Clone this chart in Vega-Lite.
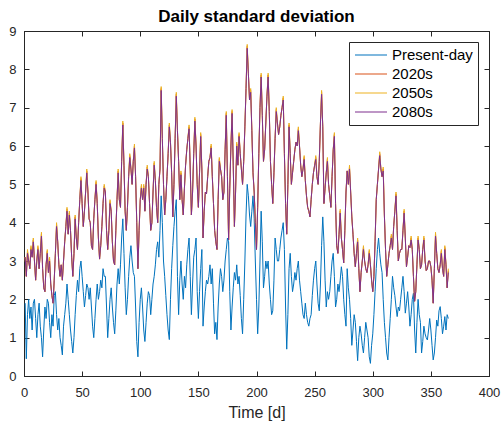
{
"$schema": "https://vega.github.io/schema/vega-lite/v6.json",
"width": 465, "height": 345,
"autosize": {"type": "none"},
"padding": {"left": 24, "top": 31, "right": 15, "bottom": 47},
"background": "white",
"title": {"text": "Daily standard deviation", "fontSize": 17, "fontWeight": "bold", "font": "Liberation Sans", "color": "black", "offset": 8, "baseline": "alphabetic", "frame": "group", "anchor": "middle", "dy": 22},
"config": {
  "view": {"stroke": "#262626", "strokeWidth": 1},
  "axis": {"grid": false, "domainColor": "#262626", "tickColor": "#262626", "labelColor": "#262626", "labelFont": "Liberation Sans", "labelFontSize": 13, "titleFont": "Liberation Sans", "titleColor": "#262626", "titleFontWeight": "normal", "tickSize": -5, "labelFlush": false}
},
"layer": [
{
"data": {"values": [
{"d":1,"p":1.9,"a":3.1,"b":3.1,"c":3.1},
{"d":2,"p":0.45,"a":2.6,"b":2.6,"c":2.6},
{"d":3,"p":1.6,"a":3.25,"b":3.3,"c":3.2},
{"d":4,"p":2.0,"a":3.0,"b":3.0,"c":3.0},
{"d":5,"p":1.5,"a":2.8,"b":2.8,"c":2.8},
{"d":6,"p":1.8,"a":3.35,"b":3.4,"c":3.3},
{"d":7,"p":1.2,"a":3.1,"b":3.1,"c":3.1},
{"d":8,"p":1.9,"a":3.55,"b":3.6,"c":3.5},
{"d":9,"p":2.0,"a":3.0,"b":3.0,"c":3.0},
{"d":10,"p":1.5,"a":2.5,"b":2.5,"c":2.5},
{"d":11,"p":1.0,"a":3.0,"b":3.0,"c":3.0},
{"d":12,"p":1.6,"a":3.35,"b":3.4,"c":3.3},
{"d":13,"p":1.9,"a":2.8,"b":2.8,"c":2.8},
{"d":14,"p":1.3,"a":3.2,"b":3.2,"c":3.2},
{"d":15,"p":1.0,"a":3.7,"b":3.75,"c":3.65},
{"d":16,"p":0.5,"a":2.8,"b":2.8,"c":2.8},
{"d":17,"p":1.2,"a":2.3,"b":2.3,"c":2.3},
{"d":18,"p":1.8,"a":2.2,"b":2.2,"c":2.2},
{"d":19,"p":1.5,"a":2.9,"b":2.9,"c":2.9},
{"d":20,"p":2.0,"a":3.25,"b":3.3,"c":3.2},
{"d":21,"p":1.9,"a":2.7,"b":2.7,"c":2.7},
{"d":22,"p":1.4,"a":3.05,"b":3.1,"c":3.0},
{"d":23,"p":1.0,"a":2.4,"b":2.4,"c":2.4},
{"d":24,"p":1.6,"a":2.1,"b":2.1,"c":2.1},
{"d":25,"p":1.3,"a":1.9,"b":1.9,"c":1.9},
{"d":26,"p":2.1,"a":2.5,"b":2.5,"c":2.5},
{"d":27,"p":2.2,"a":3.2,"b":3.2,"c":3.2},
{"d":28,"p":1.6,"a":3.95,"b":4.0,"c":3.9},
{"d":29,"p":1.2,"a":3.5,"b":3.5,"c":3.5},
{"d":30,"p":1.5,"a":2.9,"b":2.9,"c":2.9},
{"d":31,"p":1.0,"a":2.6,"b":2.6,"c":2.6},
{"d":32,"p":0.8,"a":2.9,"b":2.9,"c":2.9},
{"d":33,"p":0.55,"a":2.5,"b":2.5,"c":2.5},
{"d":34,"p":1.3,"a":3.0,"b":3.0,"c":3.0},
{"d":35,"p":1.6,"a":3.5,"b":3.5,"c":3.5},
{"d":36,"p":1.9,"a":3.9,"b":3.9,"c":3.9},
{"d":37,"p":2.4,"a":4.35,"b":4.4,"c":4.3},
{"d":38,"p":2.0,"a":3.7,"b":3.7,"c":3.7},
{"d":39,"p":1.6,"a":4.25,"b":4.3,"c":4.2},
{"d":40,"p":1.2,"a":3.8,"b":3.8,"c":3.8},
{"d":41,"p":0.9,"a":3.1,"b":3.1,"c":3.1},
{"d":42,"p":0.6,"a":2.6,"b":2.6,"c":2.6},
{"d":43,"p":1.0,"a":3.2,"b":3.2,"c":3.2},
{"d":44,"p":1.6,"a":4.15,"b":4.2,"c":4.1},
{"d":45,"p":2.1,"a":3.6,"b":3.6,"c":3.6},
{"d":46,"p":2.5,"a":3.3,"b":3.3,"c":3.3},
{"d":47,"p":2.2,"a":4.0,"b":4.0,"c":4.0},
{"d":48,"p":2.8,"a":4.6,"b":4.6,"c":4.6},
{"d":49,"p":3.0,"a":5.15,"b":5.2,"c":5.1},
{"d":50,"p":2.6,"a":4.5,"b":4.5,"c":4.5},
{"d":51,"p":2.2,"a":3.9,"b":3.9,"c":3.9},
{"d":52,"p":1.8,"a":4.3,"b":4.3,"c":4.3},
{"d":53,"p":2.1,"a":4.8,"b":4.8,"c":4.8},
{"d":54,"p":2.4,"a":5.35,"b":5.4,"c":5.3},
{"d":55,"p":2.3,"a":4.8,"b":4.8,"c":4.8},
{"d":56,"p":2.0,"a":4.1,"b":4.1,"c":4.1},
{"d":57,"p":2.3,"a":4.0,"b":4.0,"c":4.0},
{"d":58,"p":1.8,"a":3.4,"b":3.4,"c":3.4},
{"d":59,"p":1.3,"a":3.3,"b":3.3,"c":3.3},
{"d":60,"p":1.0,"a":4.1,"b":4.1,"c":4.1},
{"d":61,"p":1.5,"a":4.6,"b":4.6,"c":4.6},
{"d":62,"p":2.0,"a":5.05,"b":5.1,"c":5.0},
{"d":63,"p":2.4,"a":4.5,"b":4.5,"c":4.5},
{"d":64,"p":2.0,"a":3.6,"b":3.6,"c":3.6},
{"d":65,"p":2.2,"a":3.05,"b":3.05,"c":3.05},
{"d":66,"p":2.5,"a":3.4,"b":3.4,"c":3.4},
{"d":67,"p":2.3,"a":3.9,"b":3.9,"c":3.9},
{"d":68,"p":2.8,"a":4.5,"b":4.5,"c":4.5},
{"d":69,"p":2.6,"a":4.95,"b":5.0,"c":4.9},
{"d":70,"p":2.6,"a":4.8,"b":4.8,"c":4.8},
{"d":71,"p":1.8,"a":3.8,"b":3.8,"c":3.8},
{"d":72,"p":1.0,"a":3.3,"b":3.3,"c":3.3},
{"d":73,"p":1.5,"a":3.8,"b":3.8,"c":3.8},
{"d":74,"p":2.0,"a":4.55,"b":4.6,"c":4.5},
{"d":75,"p":2.3,"a":4.3,"b":4.3,"c":4.3},
{"d":76,"p":1.8,"a":3.5,"b":3.5,"c":3.5},
{"d":77,"p":1.4,"a":3.0,"b":3.0,"c":3.0},
{"d":78,"p":1.1,"a":2.9,"b":2.9,"c":2.9},
{"d":79,"p":1.7,"a":3.8,"b":3.8,"c":3.8},
{"d":80,"p":2.4,"a":4.6,"b":4.6,"c":4.6},
{"d":81,"p":2.8,"a":5.35,"b":5.4,"c":5.3},
{"d":82,"p":2.4,"a":4.6,"b":4.6,"c":4.6},
{"d":83,"p":2.9,"a":4.4,"b":4.4,"c":4.4},
{"d":84,"p":3.6,"a":5.6,"b":5.6,"c":5.6},
{"d":85,"p":4.1,"a":6.6,"b":6.65,"c":6.55},
{"d":86,"p":3.2,"a":5.5,"b":5.5,"c":5.5},
{"d":87,"p":2.3,"a":4.3,"b":4.3,"c":4.3},
{"d":88,"p":1.6,"a":3.8,"b":3.8,"c":3.8},
{"d":89,"p":2.0,"a":4.4,"b":4.4,"c":4.4},
{"d":90,"p":2.6,"a":5.2,"b":5.2,"c":5.2},
{"d":91,"p":3.1,"a":5.75,"b":5.8,"c":5.7},
{"d":92,"p":3.4,"a":5.4,"b":5.4,"c":5.4},
{"d":93,"p":3.0,"a":5.0,"b":5.0,"c":5.0},
{"d":94,"p":2.7,"a":5.6,"b":5.6,"c":5.6},
{"d":95,"p":2.6,"a":6.0,"b":6.05,"c":5.95},
{"d":96,"p":1.8,"a":5.2,"b":5.2,"c":5.2},
{"d":97,"p":0.9,"a":4.0,"b":4.0,"c":4.0},
{"d":98,"p":0.5,"a":2.8,"b":2.8,"c":2.8},
{"d":99,"p":1.4,"a":3.8,"b":3.8,"c":3.8},
{"d":100,"p":2.0,"a":4.6,"b":4.6,"c":4.6},
{"d":101,"p":2.3,"a":4.95,"b":5.0,"c":4.9},
{"d":102,"p":1.8,"a":4.6,"b":4.6,"c":4.6},
{"d":103,"p":1.2,"a":4.95,"b":5.0,"c":4.9},
{"d":104,"p":0.9,"a":4.3,"b":4.3,"c":4.3},
{"d":105,"p":1.4,"a":5.0,"b":5.0,"c":5.0},
{"d":106,"p":1.9,"a":5.45,"b":5.5,"c":5.4},
{"d":107,"p":2.2,"a":5.2,"b":5.2,"c":5.2},
{"d":108,"p":2.1,"a":4.5,"b":4.5,"c":4.5},
{"d":109,"p":1.6,"a":3.8,"b":3.8,"c":3.8},
{"d":110,"p":2.0,"a":4.0,"b":4.0,"c":4.0},
{"d":111,"p":2.4,"a":4.8,"b":4.8,"c":4.8},
{"d":112,"p":2.6,"a":5.55,"b":5.6,"c":5.5},
{"d":113,"p":2.9,"a":5.1,"b":5.1,"c":5.1},
{"d":114,"p":3.3,"a":4.4,"b":4.4,"c":4.4},
{"d":115,"p":3.5,"a":4.0,"b":4.0,"c":4.0},
{"d":116,"p":3.1,"a":5.0,"b":5.0,"c":5.0},
{"d":117,"p":3.8,"a":5.4,"b":5.4,"c":5.4},
{"d":118,"p":4.7,"a":7.5,"b":7.55,"c":7.45},
{"d":119,"p":4.0,"a":6.2,"b":6.2,"c":6.2},
{"d":120,"p":3.0,"a":5.0,"b":5.0,"c":5.0},
{"d":121,"p":2.6,"a":4.2,"b":4.2,"c":4.2},
{"d":122,"p":2.1,"a":4.6,"b":4.6,"c":4.6},
{"d":123,"p":1.6,"a":5.2,"b":5.2,"c":5.2},
{"d":124,"p":1.2,"a":5.8,"b":5.8,"c":5.8},
{"d":125,"p":0.95,"a":6.55,"b":6.6,"c":6.5},
{"d":126,"p":2.0,"a":6.1,"b":6.1,"c":6.1},
{"d":127,"p":2.8,"a":5.3,"b":5.3,"c":5.3},
{"d":128,"p":3.4,"a":4.15,"b":4.15,"c":4.15},
{"d":129,"p":3.9,"a":5.0,"b":5.0,"c":5.0},
{"d":130,"p":4.3,"a":6.2,"b":6.2,"c":6.2},
{"d":131,"p":4.6,"a":7.35,"b":7.4,"c":7.3},
{"d":132,"p":2.6,"a":6.4,"b":6.4,"c":6.4},
{"d":133,"p":1.6,"a":5.6,"b":5.6,"c":5.6},
{"d":134,"p":2.5,"a":4.6,"b":4.6,"c":4.6},
{"d":135,"p":3.0,"a":5.3,"b":5.35,"c":5.25},
{"d":136,"p":2.4,"a":4.6,"b":4.6,"c":4.6},
{"d":137,"p":2.0,"a":4.2,"b":4.2,"c":4.2},
{"d":138,"p":2.6,"a":4.9,"b":4.9,"c":4.9},
{"d":139,"p":2.3,"a":5.5,"b":5.5,"c":5.5},
{"d":140,"p":2.9,"a":5.9,"b":5.9,"c":5.9},
{"d":141,"p":3.3,"a":6.2,"b":6.2,"c":6.2},
{"d":142,"p":3.6,"a":6.5,"b":6.55,"c":6.45},
{"d":143,"p":2.6,"a":5.4,"b":5.4,"c":5.4},
{"d":144,"p":1.6,"a":4.2,"b":4.2,"c":4.2},
{"d":145,"p":2.4,"a":4.8,"b":4.8,"c":4.8},
{"d":146,"p":3.1,"a":5.8,"b":5.8,"c":5.8},
{"d":147,"p":3.3,"a":6.7,"b":6.75,"c":6.65},
{"d":148,"p":3.6,"a":6.0,"b":6.0,"c":6.0},
{"d":149,"p":2.2,"a":5.0,"b":5.0,"c":5.0},
{"d":150,"p":1.5,"a":4.4,"b":4.4,"c":4.4},
{"d":151,"p":2.2,"a":5.3,"b":5.3,"c":5.3},
{"d":152,"p":2.8,"a":6.3,"b":6.35,"c":6.25},
{"d":153,"p":3.3,"a":5.4,"b":5.4,"c":5.4},
{"d":154,"p":1.3,"a":3.6,"b":3.6,"c":3.6},
{"d":155,"p":1.8,"a":4.3,"b":4.3,"c":4.3},
{"d":156,"p":2.2,"a":4.8,"b":4.8,"c":4.8},
{"d":157,"p":2.5,"a":4.75,"b":4.75,"c":4.75},
{"d":158,"p":2.4,"a":5.2,"b":5.2,"c":5.2},
{"d":159,"p":2.6,"a":5.6,"b":5.6,"c":5.6},
{"d":160,"p":2.9,"a":5.7,"b":5.7,"c":5.7},
{"d":161,"p":2.4,"a":6.0,"b":6.05,"c":5.95},
{"d":162,"p":2.8,"a":5.2,"b":5.2,"c":5.2},
{"d":163,"p":1.9,"a":4.5,"b":4.5,"c":4.5},
{"d":164,"p":1.1,"a":3.8,"b":3.8,"c":3.8},
{"d":165,"p":1.4,"a":3.5,"b":3.5,"c":3.5},
{"d":166,"p":0.95,"a":3.3,"b":3.3,"c":3.3},
{"d":167,"p":1.8,"a":4.6,"b":4.6,"c":4.6},
{"d":168,"p":2.4,"a":5.65,"b":5.7,"c":5.6},
{"d":169,"p":2.8,"a":5.4,"b":5.4,"c":5.4},
{"d":170,"p":2.6,"a":5.2,"b":5.2,"c":5.2},
{"d":171,"p":2.2,"a":4.6,"b":4.6,"c":4.6},
{"d":172,"p":2.5,"a":4.8,"b":4.8,"c":4.8},
{"d":173,"p":3.0,"a":5.9,"b":5.9,"c":5.9},
{"d":174,"p":3.3,"a":6.85,"b":6.9,"c":6.8},
{"d":175,"p":3.6,"a":5.2,"b":5.2,"c":5.2},
{"d":176,"p":3.5,"a":3.55,"b":3.55,"c":3.55},
{"d":177,"p":2.2,"a":4.9,"b":4.9,"c":4.9},
{"d":178,"p":1.2,"a":6.0,"b":6.0,"c":6.0},
{"d":179,"p":1.8,"a":6.9,"b":6.95,"c":6.85},
{"d":180,"p":2.3,"a":5.5,"b":5.5,"c":5.5},
{"d":181,"p":2.7,"a":3.9,"b":3.9,"c":3.9},
{"d":182,"p":2.5,"a":4.8,"b":4.8,"c":4.8},
{"d":183,"p":2.9,"a":6.05,"b":6.1,"c":6.0},
{"d":184,"p":2.4,"a":5.5,"b":5.5,"c":5.5},
{"d":185,"p":2.6,"a":6.3,"b":6.35,"c":6.25},
{"d":186,"p":2.1,"a":5.8,"b":5.8,"c":5.8},
{"d":187,"p":1.5,"a":5.4,"b":5.4,"c":5.4},
{"d":188,"p":1.1,"a":5.0,"b":5.0,"c":5.0},
{"d":189,"p":2.0,"a":5.6,"b":5.6,"c":5.6},
{"d":190,"p":3.0,"a":6.5,"b":6.5,"c":6.5},
{"d":191,"p":4.2,"a":7.5,"b":7.5,"c":7.5},
{"d":192,"p":5.0,"a":8.6,"b":8.65,"c":8.55},
{"d":193,"p":4.7,"a":7.9,"b":7.9,"c":7.9},
{"d":194,"p":4.2,"a":7.2,"b":7.2,"c":7.2},
{"d":195,"p":3.9,"a":7.45,"b":7.5,"c":7.4},
{"d":196,"p":4.3,"a":6.4,"b":6.4,"c":6.4},
{"d":197,"p":4.7,"a":5.3,"b":5.3,"c":5.3},
{"d":198,"p":4.1,"a":4.8,"b":4.8,"c":4.8},
{"d":199,"p":3.0,"a":4.0,"b":4.0,"c":4.0},
{"d":200,"p":2.0,"a":3.3,"b":3.3,"c":3.3},
{"d":201,"p":1.1,"a":4.4,"b":4.4,"c":4.4},
{"d":202,"p":1.8,"a":5.8,"b":5.8,"c":5.8},
{"d":203,"p":3.0,"a":7.0,"b":7.0,"c":7.0},
{"d":204,"p":4.3,"a":7.85,"b":7.9,"c":7.8},
{"d":205,"p":3.5,"a":6.8,"b":6.8,"c":6.8},
{"d":206,"p":2.3,"a":5.6,"b":5.6,"c":5.6},
{"d":207,"p":2.6,"a":5.9,"b":5.9,"c":5.9},
{"d":208,"p":3.0,"a":6.6,"b":6.6,"c":6.6},
{"d":209,"p":2.8,"a":7.3,"b":7.3,"c":7.3},
{"d":210,"p":3.0,"a":7.85,"b":7.9,"c":7.8},
{"d":211,"p":2.4,"a":6.9,"b":6.9,"c":6.9},
{"d":212,"p":2.0,"a":5.6,"b":5.6,"c":5.6},
{"d":213,"p":1.6,"a":5.0,"b":5.0,"c":5.0},
{"d":214,"p":1.7,"a":4.5,"b":4.5,"c":4.5},
{"d":215,"p":2.5,"a":5.3,"b":5.3,"c":5.3},
{"d":216,"p":3.6,"a":6.2,"b":6.2,"c":6.2},
{"d":217,"p":3.3,"a":6.95,"b":7.0,"c":6.9},
{"d":218,"p":3.0,"a":6.6,"b":6.6,"c":6.6},
{"d":219,"p":3.0,"a":6.3,"b":6.3,"c":6.3},
{"d":220,"p":3.3,"a":6.5,"b":6.5,"c":6.5},
{"d":221,"p":3.6,"a":6.8,"b":6.8,"c":6.8},
{"d":222,"p":3.8,"a":7.0,"b":7.0,"c":7.0},
{"d":223,"p":4.0,"a":7.25,"b":7.3,"c":7.2},
{"d":224,"p":3.3,"a":5.8,"b":5.8,"c":5.8},
{"d":225,"p":1.8,"a":4.5,"b":4.5,"c":4.5},
{"d":226,"p":0.7,"a":3.7,"b":3.7,"c":3.7},
{"d":227,"p":1.6,"a":5.0,"b":5.0,"c":5.0},
{"d":228,"p":2.8,"a":6.55,"b":6.6,"c":6.5},
{"d":229,"p":3.2,"a":5.8,"b":5.8,"c":5.8},
{"d":230,"p":2.6,"a":5.0,"b":5.0,"c":5.0},
{"d":231,"p":2.2,"a":5.3,"b":5.3,"c":5.3},
{"d":232,"p":2.4,"a":5.6,"b":5.6,"c":5.6},
{"d":233,"p":2.7,"a":5.9,"b":5.9,"c":5.9},
{"d":234,"p":2.5,"a":6.1,"b":6.1,"c":6.1},
{"d":235,"p":2.8,"a":6.0,"b":6.0,"c":6.0},
{"d":236,"p":3.0,"a":6.45,"b":6.5,"c":6.4},
{"d":237,"p":2.5,"a":6.0,"b":6.0,"c":6.0},
{"d":238,"p":2.2,"a":5.5,"b":5.5,"c":5.5},
{"d":239,"p":1.9,"a":5.2,"b":5.2,"c":5.2},
{"d":240,"p":1.6,"a":5.4,"b":5.4,"c":5.4},
{"d":241,"p":1.5,"a":5.7,"b":5.75,"c":5.65},
{"d":242,"p":1.9,"a":5.1,"b":5.1,"c":5.1},
{"d":243,"p":1.6,"a":4.7,"b":4.7,"c":4.7},
{"d":244,"p":1.4,"a":4.4,"b":4.4,"c":4.4},
{"d":245,"p":1.3,"a":4.3,"b":4.3,"c":4.3},
{"d":246,"p":1.5,"a":4.15,"b":4.15,"c":4.15},
{"d":247,"p":1.6,"a":4.6,"b":4.6,"c":4.6},
{"d":248,"p":2.1,"a":5.0,"b":5.0,"c":5.0},
{"d":249,"p":2.5,"a":5.3,"b":5.3,"c":5.3},
{"d":250,"p":2.8,"a":5.5,"b":5.5,"c":5.5},
{"d":251,"p":3.0,"a":5.7,"b":5.75,"c":5.65},
{"d":252,"p":2.4,"a":5.2,"b":5.2,"c":5.2},
{"d":253,"p":1.9,"a":5.0,"b":5.0,"c":5.0},
{"d":254,"p":1.7,"a":5.6,"b":5.6,"c":5.6},
{"d":255,"p":2.4,"a":6.6,"b":6.6,"c":6.6},
{"d":256,"p":3.4,"a":7.4,"b":7.45,"c":7.35},
{"d":257,"p":4.15,"a":6.5,"b":6.5,"c":6.5},
{"d":258,"p":3.5,"a":4.5,"b":4.5,"c":4.5},
{"d":259,"p":2.5,"a":4.9,"b":4.9,"c":4.9},
{"d":260,"p":1.8,"a":5.3,"b":5.3,"c":5.3},
{"d":261,"p":2.2,"a":5.65,"b":5.7,"c":5.6},
{"d":262,"p":2.0,"a":5.0,"b":5.0,"c":5.0},
{"d":263,"p":2.2,"a":4.7,"b":4.7,"c":4.7},
{"d":264,"p":2.6,"a":4.4,"b":4.4,"c":4.4},
{"d":265,"p":3.0,"a":5.2,"b":5.2,"c":5.2},
{"d":266,"p":3.2,"a":5.9,"b":5.9,"c":5.9},
{"d":267,"p":2.6,"a":6.3,"b":6.35,"c":6.25},
{"d":268,"p":1.8,"a":4.5,"b":4.5,"c":4.5},
{"d":269,"p":2.0,"a":3.4,"b":3.4,"c":3.4},
{"d":270,"p":2.4,"a":3.2,"b":3.2,"c":3.2},
{"d":271,"p":2.2,"a":3.7,"b":3.7,"c":3.7},
{"d":272,"p":2.5,"a":4.3,"b":4.35,"c":4.25},
{"d":273,"p":2.85,"a":3.6,"b":3.6,"c":3.6},
{"d":274,"p":2.6,"a":3.3,"b":3.3,"c":3.3},
{"d":275,"p":2.0,"a":2.95,"b":2.95,"c":2.95},
{"d":276,"p":1.6,"a":3.8,"b":3.8,"c":3.8},
{"d":277,"p":1.3,"a":4.8,"b":4.8,"c":4.8},
{"d":278,"p":2.8,"a":5.35,"b":5.35,"c":5.35},
{"d":279,"p":2.3,"a":5.0,"b":5.0,"c":5.0},
{"d":280,"p":2.0,"a":5.45,"b":5.5,"c":5.4},
{"d":281,"p":1.5,"a":4.8,"b":4.8,"c":4.8},
{"d":282,"p":0.8,"a":4.15,"b":4.15,"c":4.15},
{"d":283,"p":1.2,"a":3.7,"b":3.7,"c":3.7},
{"d":284,"p":1.6,"a":3.2,"b":3.2,"c":3.2},
{"d":285,"p":1.4,"a":2.85,"b":2.85,"c":2.85},
{"d":286,"p":0.9,"a":3.2,"b":3.2,"c":3.2},
{"d":287,"p":0.4,"a":3.55,"b":3.6,"c":3.5},
{"d":288,"p":1.0,"a":2.8,"b":2.8,"c":2.8},
{"d":289,"p":1.3,"a":2.2,"b":2.2,"c":2.2},
{"d":290,"p":1.1,"a":2.7,"b":2.7,"c":2.7},
{"d":291,"p":0.8,"a":3.0,"b":3.0,"c":3.0},
{"d":292,"p":0.6,"a":3.35,"b":3.4,"c":3.3},
{"d":293,"p":1.0,"a":3.0,"b":3.0,"c":3.0},
{"d":294,"p":1.4,"a":2.8,"b":2.8,"c":2.8},
{"d":295,"p":1.2,"a":2.7,"b":2.7,"c":2.7},
{"d":296,"p":1.0,"a":2.9,"b":2.9,"c":2.9},
{"d":297,"p":0.5,"a":3.25,"b":3.3,"c":3.2},
{"d":298,"p":0.33,"a":2.9,"b":2.9,"c":2.9},
{"d":299,"p":0.8,"a":2.5,"b":2.5,"c":2.5},
{"d":300,"p":1.1,"a":2.2,"b":2.2,"c":2.2},
{"d":301,"p":1.6,"a":2.6,"b":2.6,"c":2.6},
{"d":302,"p":2.2,"a":3.5,"b":3.5,"c":3.5},
{"d":303,"p":2.8,"a":4.6,"b":4.6,"c":4.6},
{"d":304,"p":3.3,"a":5.0,"b":5.0,"c":5.0},
{"d":305,"p":3.6,"a":5.4,"b":5.4,"c":5.4},
{"d":306,"p":3.2,"a":5.8,"b":5.85,"c":5.75},
{"d":307,"p":2.9,"a":5.4,"b":5.4,"c":5.4},
{"d":308,"p":2.7,"a":5.2,"b":5.2,"c":5.2},
{"d":309,"p":2.0,"a":5.4,"b":5.45,"c":5.35},
{"d":310,"p":1.4,"a":4.2,"b":4.2,"c":4.2},
{"d":311,"p":1.0,"a":3.3,"b":3.3,"c":3.3},
{"d":312,"p":0.6,"a":2.6,"b":2.6,"c":2.6},
{"d":313,"p":0.42,"a":2.9,"b":2.9,"c":2.9},
{"d":314,"p":1.0,"a":3.2,"b":3.2,"c":3.2},
{"d":315,"p":1.5,"a":3.4,"b":3.4,"c":3.4},
{"d":316,"p":2.0,"a":3.65,"b":3.7,"c":3.6},
{"d":317,"p":2.6,"a":3.3,"b":3.3,"c":3.3},
{"d":318,"p":2.3,"a":3.9,"b":3.9,"c":3.9},
{"d":319,"p":2.1,"a":4.3,"b":4.3,"c":4.3},
{"d":320,"p":1.8,"a":4.75,"b":4.8,"c":4.7},
{"d":321,"p":1.55,"a":3.8,"b":3.8,"c":3.8},
{"d":322,"p":1.8,"a":3.0,"b":3.0,"c":3.0},
{"d":323,"p":1.7,"a":3.2,"b":3.2,"c":3.2},
{"d":324,"p":2.0,"a":3.3,"b":3.3,"c":3.3},
{"d":325,"p":2.3,"a":3.3,"b":3.3,"c":3.3},
{"d":326,"p":2.6,"a":3.8,"b":3.8,"c":3.8},
{"d":327,"p":2.2,"a":4.3,"b":4.35,"c":4.25},
{"d":328,"p":1.64,"a":3.6,"b":3.6,"c":3.6},
{"d":329,"p":1.9,"a":2.85,"b":2.85,"c":2.85},
{"d":330,"p":2.2,"a":3.1,"b":3.1,"c":3.1},
{"d":331,"p":1.8,"a":3.4,"b":3.4,"c":3.4},
{"d":332,"p":1.3,"a":3.35,"b":3.35,"c":3.35},
{"d":333,"p":1.6,"a":3.6,"b":3.65,"c":3.55},
{"d":334,"p":2.0,"a":3.3,"b":3.3,"c":3.3},
{"d":335,"p":2.16,"a":2.6,"b":2.6,"c":2.6},
{"d":336,"p":1.2,"a":1.95,"b":1.95,"c":1.95},
{"d":337,"p":0.6,"a":2.2,"b":2.2,"c":2.2},
{"d":338,"p":1.4,"a":2.9,"b":2.9,"c":2.9},
{"d":339,"p":2.0,"a":3.6,"b":3.65,"c":3.55},
{"d":340,"p":1.6,"a":3.3,"b":3.3,"c":3.3},
{"d":341,"p":1.4,"a":2.8,"b":2.8,"c":2.8},
{"d":342,"p":0.6,"a":2.9,"b":2.9,"c":2.9},
{"d":343,"p":0.9,"a":3.3,"b":3.3,"c":3.3},
{"d":344,"p":1.3,"a":3.6,"b":3.65,"c":3.55},
{"d":345,"p":1.1,"a":3.0,"b":3.0,"c":3.0},
{"d":346,"p":1.0,"a":2.75,"b":2.75,"c":2.75},
{"d":347,"p":0.94,"a":2.8,"b":2.8,"c":2.8},
{"d":348,"p":1.2,"a":3.0,"b":3.0,"c":3.0},
{"d":349,"p":1.5,"a":3.0,"b":3.0,"c":3.0},
{"d":350,"p":1.2,"a":2.85,"b":2.85,"c":2.85},
{"d":351,"p":0.8,"a":2.5,"b":2.5,"c":2.5},
{"d":352,"p":0.42,"a":1.9,"b":1.9,"c":1.9},
{"d":353,"p":0.6,"a":2.8,"b":2.8,"c":2.8},
{"d":354,"p":1.0,"a":3.7,"b":3.75,"c":3.65},
{"d":355,"p":1.46,"a":3.2,"b":3.2,"c":3.2},
{"d":356,"p":1.3,"a":2.8,"b":2.8,"c":2.8},
{"d":357,"p":1.7,"a":2.7,"b":2.7,"c":2.7},
{"d":358,"p":1.81,"a":2.9,"b":2.9,"c":2.9},
{"d":359,"p":1.5,"a":3.25,"b":3.3,"c":3.2},
{"d":360,"p":1.1,"a":2.8,"b":2.8,"c":2.8},
{"d":361,"p":1.3,"a":2.6,"b":2.6,"c":2.6},
{"d":362,"p":1.55,"a":3.35,"b":3.4,"c":3.3},
{"d":363,"p":1.2,"a":2.9,"b":2.9,"c":2.9},
{"d":364,"p":1.6,"a":2.3,"b":2.3,"c":2.3},
{"d":365,"p":1.5,"a":2.75,"b":2.8,"c":2.7}
]},
"transform": [{"fold": ["p", "a", "b", "c"], "as": ["k", "v"]}],
"mark": {"type": "line", "strokeWidth": 1, "interpolate": "linear"},
"encoding": {
  "x": {"field": "d", "type": "quantitative", "scale": {"domain": [0, 400], "nice": false, "zero": false},
        "axis": {"orient": "bottom", "values": [0,50,100,150,200,250,300,350,400], "title": "Time [d]", "titleFontSize": 16, "titlePadding": 5, "labelPadding": 15}},
  "y": {"field": "v", "type": "quantitative", "scale": {"domain": [0, 9], "nice": false},
        "axis": {"orient": "left", "values": [0,1,2,3,4,5,6,7,8,9], "title": null, "labelPadding": 13}},
  "color": {"field": "k", "type": "nominal",
    "scale": {"domain": ["p", "a", "b", "c"], "range": ["#0072BD", "#D95319", "#EDB120", "#7E2F8E"]},
    "legend": {"orient": "top-right", "offset": 11, "title": null, "strokeColor": "#262626", "fillColor": "white", "padding": 5,
      "symbolType": "stroke", "symbolSize": 1024, "symbolStrokeWidth": 1.2, "clipHeight": 16, "labelFontSize": 15, "labelFont": "Liberation Sans", "labelColor": "black", "rowPadding": 3, "labelOffset": 4,
      "labelExpr": "{'p':'Present-day','a':'2020s','b':'2050s','c':'2080s'}[datum.label]"}
  }
}
},
{
"data": {"values": [{"d": 0, "v": 0}]},
"mark": {"type": "point", "opacity": 0},
"encoding": {
  "x": {"field": "d", "type": "quantitative", "scale": {"domain": [0, 400], "nice": false, "zero": false},
        "axis": {"orient": "top", "values": [0,50,100,150,200,250,300,350,400], "labels": false, "title": null}},
  "y": {"field": "v", "type": "quantitative", "scale": {"domain": [0, 9], "nice": false},
        "axis": {"orient": "right", "values": [0,1,2,3,4,5,6,7,8,9], "labels": false, "title": null}}
}
}
],
"resolve": {"axis": {"x": "independent", "y": "independent"}}
}
